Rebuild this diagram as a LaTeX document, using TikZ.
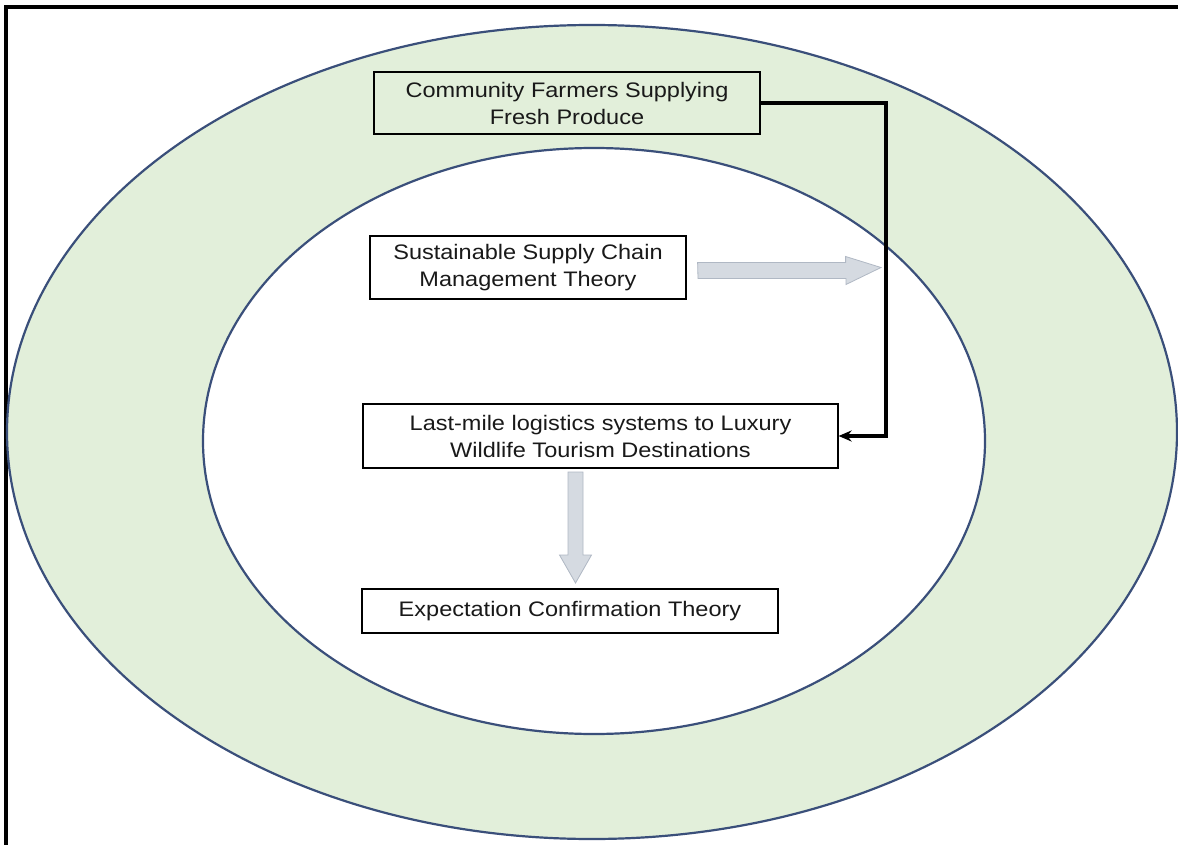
\documentclass[tikz,border=0pt]{standalone}
\usepackage{fontspec}
\setmainfont{Liberation Sans}[FakeStretch=1.12]
\usetikzlibrary{arrows.meta,calc}
\definecolor{ringgreen}{HTML}{E2EFDA}
\definecolor{ringline}{HTML}{3A4F7A}
\definecolor{blockfill}{HTML}{D5DAE1}
\definecolor{blockline}{HTML}{B0B8C4}
\tikzset{
  stage/.style={draw=black, line width=1.2pt, fill=white, align=center,
    inner sep=0pt, font=\fontsize{21}{27}\selectfont, text=black!90},
  feed/.style={line width=3.5pt, -{Stealth[length=13pt,width=11pt]}},
  blockarrow/.style={fill=blockfill, draw=blockline, line width=0.8pt},
}
\begin{document}
\begin{tikzpicture}[x=1pt,y=-1pt]
\useasboundingbox (0,0) rectangle (1178,845);
\fill[white] (0,0) rectangle (1178,845);
% outer frame (top and left edges)
\draw[line width=3.5pt] (6,845) -- (6,7) -- (1178,7);
% concentric ring
\draw[fill=ringgreen, draw=ringline, line width=2.2pt] (592,432) ellipse [x radius=585pt, y radius=407pt];
\draw[fill=white, draw=ringline, line width=2.2pt] (594,441) ellipse [x radius=391pt, y radius=293pt];
% stages
\node[stage, fill=ringgreen, minimum width=386pt, minimum height=62pt] (farmers) at (567,103)
  {Community Farmers Supplying\\Fresh Produce};
\node[stage, minimum width=316pt, minimum height=63pt] (sscm) at (528,267.5)
  {Sustainable Supply Chain\\Management Theory};
\node[stage, minimum width=475pt, minimum height=64pt] (lastmile) at (600.5,436)
  {Last-mile logistics systems to Luxury\\Wildlife  Tourism Destinations};
\node[stage, minimum width=416pt, minimum height=44pt] (ect) at (570,611)
  {Expectation Confirmation Theory};
% supply route from farmers to last-mile logistics
\coordinate (bend) at (886,436);
\draw[feed] (farmers.east) -| (bend) -- (lastmile.east);
% theory block arrows
\coordinate (hs) at ($(sscm.east)+(11,0)$);
\coordinate (ht) at (881,267.5);
\draw[blockarrow] (hs) ++(0,-5) -- ++(148,0) -- ++(0,-6) -- (ht) -- ++(-35,17) -- ++(0,-6) -- ++(-148,0) -- cycle;
\coordinate (vs) at (575.5,472);
\coordinate (vt) at (575.5,583);
\draw[blockarrow] (vs) ++(-7.5,0) -- ++(0,83) -- ++(-8.5,0) -- (vt) -- ++(16,-28) -- ++(-8.5,0) -- ++(0,-83) -- cycle;
\end{tikzpicture}
\end{document}
